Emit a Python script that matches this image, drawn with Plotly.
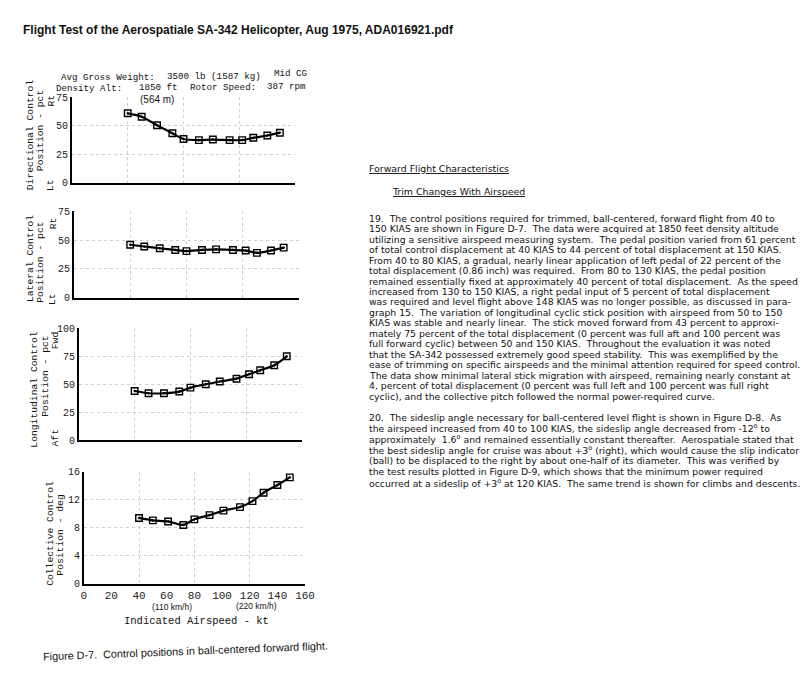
import plotly.graph_objects as go

W, H = 808, 689

# ---------------- data ----------------
airspeed_kt = [40, 50, 61, 72, 80, 91, 101, 113, 122, 130, 140, 149]
directional_pct = [61, 58, 50.5, 43.5, 38.5, 37.5, 38, 37.5, 37.5, 39.5, 41.5, 44]
lateral_pct = [46, 44.5, 43, 41.5, 40.5, 41.5, 42, 41.5, 41, 39, 41, 43.5]
longitudinal_pct = [44, 42, 42, 43.5, 47, 50, 52.5, 55, 59, 62.5, 67, 75]
collective_deg = [9.4, 9.05, 8.9, 8.4, 9.2, 9.8, 10.45, 10.95, 11.8, 13.0, 14.1, 15.2]

x_ticks = [0, 20, 40, 60, 80, 100, 120, 140, 160]
x_grid = [40, 80, 120]
pct75_ticks = [0, 25, 50, 75]
pct100_ticks = [0, 25, 50, 75, 100]
deg_ticks = [0, 4, 8, 12, 16]

page_title = "Flight Test of the Aerospatiale SA-342 Helicopter, Aug 1975, ADA016921.pdf"
caption = "Figure D-7.  Control positions in ball-centered forward flight."

para19 = [
    "19.  The control positions required for trimmed, ball-centered, forward flight from 40 to",
    "150 KIAS are shown in Figure D-7.  The data were acquired at 1850 feet density altitude",
    "utilizing a sensitive airspeed measuring system.  The pedal position varied from 61 percent",
    "of total control displacement at 40 KIAS to 44 percent of total displacement at 150 KIAS.",
    "From 40 to 80 KIAS, a gradual, nearly linear application of left pedal of 22 percent of the",
    "total displacement (0.86 inch) was required.  From 80 to 130 KIAS, the pedal position",
    "remained essentially fixed at approximately 40 percent of total displacement.  As the speed",
    "increased from 130 to 150 KIAS, a right pedal input of 5 percent of total displacement",
    "was required and level flight above 148 KIAS was no longer possible, as discussed in para-",
    "graph 15.  The variation of longitudinal cyclic stick position with airspeed from 50 to 150",
    "KIAS was stable and nearly linear.  The stick moved forward from 43 percent to approxi-",
    "mately 75 percent of the total displacement (0 percent was full aft and 100 percent was",
    "full forward cyclic) between 50 and 150 KIAS.  Throughout the evaluation it was noted",
    "that the SA-342 possessed extremely good speed stability.  This was exemplified by the",
    "ease of trimming on specific airspeeds and the minimal attention required for speed control.",
    "The data show minimal lateral stick migration with airspeed, remaining nearly constant at",
    "4, percent of total displacement (0 percent was full left and 100 percent was full right",
    "cyclic), and the collective pitch followed the normal power-required curve.",
]
para20 = [
    "20.  The sideslip angle necessary for ball-centered level flight is shown in Figure D-8.  As",
    "the airspeed increased from 40 to 100 KIAS, the sideslip angle decreased from -12<sup>o</sup> to",
    "approximately  1.6<sup>o</sup> and remained essentially constant thereafter.  Aerospatiale stated that",
    "the best sideslip angle for cruise was about +3<sup>o</sup> (right), which would cause the slip indicator",
    "(ball) to be displaced to the right by about one-half of its diameter.  This was verified by",
    "the test results plotted in Figure D-9, which shows that the minimum power required",
    "occurred at a sideslip of +3<sup>o</sup> at 120 KIAS.  The same trend is shown for climbs and descents.",
]

# ---------------- styling ----------------
MONO = "Liberation Mono, Courier New, monospace"
SANS = "Liberation Sans, Arial, sans-serif"
WIDE = "DejaVu Sans, Verdana, sans-serif"
GRID = "#cfcfcf"


def fx(px):
    return px / W


def fy(py):
    return 1 - py / H


# pixel boxes of the four panels: (left, right, top, bottom)
panels = [
    dict(box=(70, 297, 94, 181), yr=[0, 75], yt=pct75_ticks, y=directional_pct),
    dict(box=(72, 301, 210, 298), yr=[0, 75], yt=pct75_ticks, y=lateral_pct),
    dict(box=(77, 304, 329, 443), yr=[0, 100], yt=pct100_ticks, y=longitudinal_pct),
    dict(box=(82, 307, 475, 589), yr=[0, 16], yt=deg_ticks, y=collective_deg),
]

fig = go.Figure()
layout = dict(
    width=W, height=H,
    margin=dict(l=0, r=0, t=0, b=0),
    paper_bgcolor="white", plot_bgcolor="white",
    showlegend=False,
)

for i, p in enumerate(panels, start=1):
    l, r, t, b = p["box"]
    sfx = "" if i == 1 else str(i)
    fig.add_trace(go.Scatter(
        x=airspeed_kt, y=p["y"], xaxis="x" + sfx, yaxis="y" + sfx,
        mode="lines+markers",
        line=dict(color="black", width=2.2, shape="spline", smoothing=0.8),
        marker=dict(symbol="square-open-dot", size=6.5, color="black",
                    line=dict(width=1.4, color="black")),
        cliponaxis=False,
    ))
    xa = dict(
        domain=[fx(l), fx(r)], anchor="y" + sfx, range=[0, 160],
        showline=True, linecolor="black", linewidth=2, zeroline=False,
        ticks="", fixedrange=True,
    )
    if i < 4:
        xa.update(tickvals=x_grid, showticklabels=False, showgrid=True,
                  gridcolor=GRID, griddash="dot", gridwidth=1)
    else:
        xa.update(tickvals=x_ticks, showticklabels=True, showgrid=False,
                  tickfont=dict(family=MONO, size=11, color="#222"),
                  minor=dict(tickvals=x_grid, showgrid=True, gridcolor=GRID,
                             griddash="dot", gridwidth=1, ticks=""))
    ya = dict(
        domain=[fy(b), fy(t)], anchor="x" + sfx, range=p["yr"],
        tickvals=p["yt"], showline=True, linecolor="black", linewidth=1.5,
        zeroline=False, ticks="", showgrid=True, gridcolor=GRID,
        griddash="dot", gridwidth=1, fixedrange=True,
        tickfont=dict(family=MONO, size=10, color="#222"),
    )
    layout["xaxis" + sfx] = xa
    layout["yaxis" + sfx] = ya

fig.update_layout(**layout)

ann = []


def add(text, x, y, size=10, family=MONO, xanchor="center", yanchor="middle",
        angle=0, color="#111"):
    ann.append(dict(text=text, x=fx(x), y=fy(y), xref="paper", yref="paper",
                    showarrow=False, xanchor=xanchor, yanchor=yanchor,
                    align=xanchor, textangle=angle, borderpad=0,
                    font=dict(family=family, size=size, color=color)))


# page title
add("<b>" + page_title + "</b>", 19, 25, size=12, family=SANS, xanchor="left")

# header of the chart
add("Avg Gross Weight:", 58, 74, size=9.2, xanchor="left")
add("3500 lb (1587 kg)", 166, 73, size=9.2, xanchor="left")
add("Mid CG", 274, 70, size=9.2, xanchor="left")
add("Density Alt:", 53, 85, size=9.2, xanchor="left")
add("1850 ft", 137, 84, size=9.2, xanchor="left")
add("Rotor Speed:", 189, 84, size=9.2, xanchor="left")
add("387 rpm", 267, 83, size=9.2, xanchor="left")
add("(564 m)", 157, 96, size=10, family=SANS)

# y axis titles (rotated)
add("Directional Control", 28, 132, size=9.7, angle=-90)
add("Position - pct", 38, 128, size=9.7, angle=-90)
add("Rt", 49, 97, size=9.7, angle=-90)
add("Lt", 49, 183, size=9.7, angle=-90)

add("Lateral Control", 28, 258, size=9.7, angle=-90)
add("Position - pct", 38, 262, size=9.7, angle=-90)
add("Rt", 51, 222, size=9.7, angle=-90)
add("Lt", 51, 299, size=9.7, angle=-90)

add("Longitudinal Control", 32, 391, size=9.7, angle=-90)
add("Position - pct", 43, 378, size=9.7, angle=-90)
add("Fwd", 53, 342, size=9.7, angle=-90)
add("Aft", 53, 441, size=9.7, angle=-90)

add("Collective Control", 48, 538, size=9.7, angle=-90)
add("Position - deg", 59, 540, size=9.7, angle=-90)

# x axis extra labels
add("(110 km/h)", 172, 613, size=8.5, family=SANS)
add("(220 km/h)", 258, 612, size=8.5, family=SANS)
add("Indicated Airspeed - kt", 197, 627, size=10.5)

# caption
add(caption, 185, 657, size=10.8, family=SANS, angle=-2.2)

# text block
add("<u>Forward Flight Characteristics</u>", 371, 166, size=9.4, family=WIDE, xanchor="left")
add("<u>Trim Changes With Airspeed</u>", 394, 190, size=9.4, family=WIDE, xanchor="left")
for k, line in enumerate(para19):
    add(line, 371, 217 + 10.65 * k, size=9.3, family=WIDE, xanchor="left")
for k, line in enumerate(para20):
    add(line, 371, 420 + 11 * k, size=9.3, family=WIDE, xanchor="left")

fig.update_layout(annotations=ann)

fig.write_html("out.html", config={"displayModeBar": False},
               post_script="document.body.style.margin='0px';")
